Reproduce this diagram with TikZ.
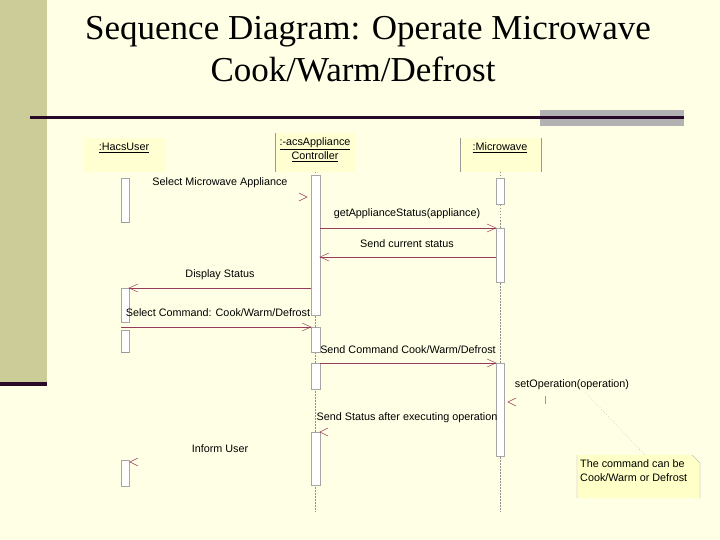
\documentclass[tikz,border=0pt]{standalone}
\usepackage{fontspec}
\setmainfont{Liberation Serif}
\newfontfamily\lab{Liberation Sans}
\definecolor{bg}{RGB}{255,255,230}
\definecolor{side}{RGB}{204,204,153}
\definecolor{maroon}{RGB}{150,60,90}
\definecolor{rule}{RGB}{40,10,40}
\definecolor{hdr}{RGB}{255,255,210}
\definecolor{notec}{RGB}{255,255,200}
\begin{document}
\begin{tikzpicture}[x=1pt,y=-1pt,
 lbl/.style={font=\lab\fontsize{10.8}{12}\selectfont,inner sep=0pt},
 act/.style={draw=black!35,fill=white,line width=0.4pt},
 msg/.style={draw=maroon,line width=0.5pt},
 hd/.style={draw=maroon,line width=0.5pt},
 life/.style={draw=black!45,dash pattern=on 1.5pt off 1.5pt,line width=0.4pt}]
\useasboundingbox (0,0) rectangle (720,540);
\fill[bg] (0,0) rectangle (720,540);
\fill[side] (0,0) rectangle (47,384);
\fill[rule] (0,382) rectangle (47,386);
\fill[black!30] (540,110) rectangle (684,126);
\draw[line width=3pt,rule] (30,117.5) -- (684,117.5);
\node[font=\fontsize{35}{42}\selectfont,anchor=base] (title1) at (368,40) {Sequence Diagram: Operate Microwave};
\node[font=\fontsize{35}{42}\selectfont,anchor=base] (title2) at (353,82) {Cook/Warm/Defrost};
% headers
\fill[hdr] (84,138) rectangle (165,172);
\fill[hdr] (276,133) rectangle (355,172);
\fill[hdr] (461,138) rectangle (541,172);
\draw[black!40] (275,133) -- (275,172) (460,138) -- (460,172) (541,138) -- (541,172);
\node[lbl] (u) at (124,148) {\underline{:HacsUser}};
\node[lbl,align=center] (c) at (315,150) {\underline{:-acsAppliance}\\[1pt]\underline{Controller}};
\node[lbl] (m) at (500,148) {\underline{:Microwave}};
% lifelines
\draw[life] (315,172) -- (315,512);
\draw[life] (500,172) -- (500,512);
% activations
\draw[act] (121,178) rectangle (129,222); \draw[black!40] (121,222)--(129,222);
\draw[act] (311,175) rectangle (320,315);
\draw[act] (496,178) rectangle (504,204);
\draw[act] (496,228) rectangle (504,282);
\draw[act] (121,288) rectangle (129,322);
\draw[act] (121,330) rectangle (129,352); \draw[black!40] (121,352)--(129,352);
\draw[act] (311,327) rectangle (320,352);
\draw[act] (311,363) rectangle (320,389);
\draw[act] (311,432) rectangle (320,485);
\draw[act] (496,363) rectangle (504,456);
\draw[act] (121,460) rectangle (129,486);
% messages
\node[lbl] (t0) at (220,183) {Select Microwave Appliance};
\draw[hd] (299,193)--(307,197)--(299,201);
\node[lbl] (t1) at (407,214) {getApplianceStatus(appliance)};
\draw[msg] (320,228) -- (496,228); \draw[hd] (487,224)--(496,228)--(487,232);
\node[lbl] (t2) at (407,244) {Send current status};
\draw[msg] (496,257) -- (320,257); \draw[hd] (329,253)--(320,257)--(329,261);
\node[lbl] (t3) at (220,275) {Display Status};
\draw[msg] (311,288) -- (129,288); \draw[hd] (138,284)--(129,288)--(138,292);
\node[lbl] (t4) at (218,313) {Select Command: Cook/Warm/Defrost};
\draw[msg] (121,327) -- (311,327); \draw[hd] (302,323)--(311,327)--(302,331);
\node[lbl] (t5) at (408,350) {Send Command Cook/Warm/Defrost};
\draw[msg] (320,363) -- (496,363); \draw[hd] (487,359)--(496,363)--(487,367);
\node[lbl] (t6) at (572,385) {setOperation(operation)};
\draw[hd] (516,398)--(508,402)--(516,406);
\draw[black!40] (545,396)--(545,404);
\node[lbl] (t7) at (407,418) {Send Status after executing operation};
\draw[hd] (328,428)--(320,432)--(328,436);
\node[lbl] (t8) at (220,449) {Inform User};
\draw[hd] (138,458)--(130,462)--(138,466);
% note
\fill[notec] (577,455) -- (692,455) -- (700,463) -- (700,498) -- (577,498) -- cycle;
\draw[black!40,line width=0.3pt] (577,455)--(577,498) (692,455)--(700,463)--(700,498);
\node[lbl,align=left,anchor=north west] (note) at (580,459) {The command can be\\[2pt]Cook/Warm or Defrost};
\draw[black!40,dotted] (585,392) -- (645,455);
\end{tikzpicture}
\end{document}
